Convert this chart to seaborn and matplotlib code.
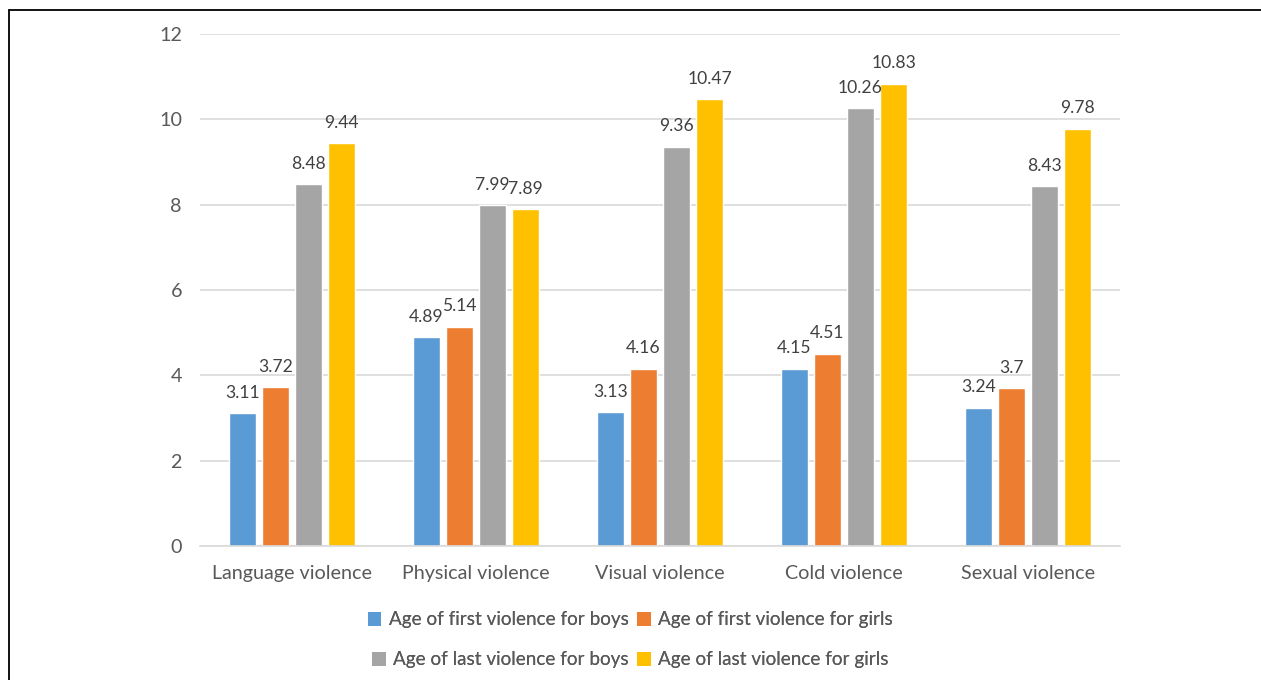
import matplotlib
matplotlib.use("Agg")
import matplotlib.pyplot as plt
from matplotlib.lines import Line2D
from matplotlib.patches import Patch
import seaborn as sns
import pandas as pd

categories = ["Language violence", "Physical violence", "Visual violence",
              "Cold violence", "Sexual violence"]
series = ["Age of first violence for boys", "Age of first violence for girls",
          "Age of last violence for boys", "Age of last violence for girls"]
first_boys = [3.11, 4.89, 3.13, 4.15, 3.24]
first_girls = [3.72, 5.14, 4.16, 4.51, 3.7]
last_boys = [8.48, 7.99, 9.36, 10.26, 8.43]
last_girls = [9.44, 7.89, 10.47, 10.83, 9.78]
label_text = {
    series[0]: ["3.11", "4.89", "3.13", "4.15", "3.24"],
    series[1]: ["3.72", "5.14", "4.16", "4.51", "3.7"],
    series[2]: ["8.48", "7.99", "9.36", "10.26", "8.43"],
    series[3]: ["9.44", "7.89", "10.47", "10.83", "9.78"],
}
colors = ["#5B9BD5", "#ED7D31", "#A5A5A5", "#FFC000"]

rows = []
for name, vals in zip(series, [first_boys, first_girls, last_boys, last_girls]):
    for cat, v in zip(categories, vals):
        rows.append({"category": cat, "series": name, "value": v})
df = pd.DataFrame(rows)

sns.set_theme(style="white")
plt.rcParams["font.family"] = ["Lato", "DejaVu Sans"]

W, H = 1261, 680
FS = 14.2
fig = plt.figure(figsize=(W / 100, H / 100), dpi=100)
ax = fig.add_axes([200 / W, 1 - 546 / H, 920 / W, 512 / H])

sns.barplot(data=df, x="category", y="value", hue="series", order=categories,
            hue_order=series, palette=colors, width=0.72, gap=0.2,
            saturation=1, ax=ax, legend=False)

ax.set_ylim(0, 12)
ax.set_xlim(-0.5, 4.5)
ax.set_yticks(range(0, 13, 2))
ax.yaxis.grid(True, color="#D9D9D9", linewidth=1.2)
ax.set_axisbelow(True)
for side in ["top", "right", "left"]:
    ax.spines[side].set_visible(False)
ax.spines["bottom"].set_color("#D9D9D9")
ax.spines["bottom"].set_linewidth(1.2)
ax.set_xlabel("")
ax.set_ylabel("")
ax.tick_params(axis="both", length=0, labelsize=FS, colors="#595959")
ax.tick_params(axis="y", pad=13)
ax.tick_params(axis="x", pad=14)

for container, name in zip(ax.containers, series):
    ax.bar_label(container, labels=label_text[name], padding=9,
                 fontsize=12.6, color="#404040")

# legend laid out in two rows, each row centred on its own
handles = [Patch(facecolor=c, edgecolor="none") for c in colors]
legend_rows = [(0, 1, 620), (2, 3, 660)]
for i, j, yc in legend_rows:
    leg = fig.legend([handles[i], handles[j]], [series[i], series[j]],
                     loc="center", bbox_to_anchor=(0.5, 1 - yc / H),
                     ncol=2, frameon=False, fontsize=13.6, labelcolor="#595959",
                     handlelength=0.7, handleheight=0.7, handletextpad=0.4,
                     columnspacing=0.45, borderpad=0)
    fig.add_artist(leg)

# chart frame
fig.add_artist(Line2D([9 / W, 9 / W], [0, 1 - 10 / H], color="black", linewidth=1.3,
                      transform=fig.transFigure))
fig.add_artist(Line2D([9 / W, 1], [1 - 10 / H, 1 - 10 / H], color="black", linewidth=1.3,
                      transform=fig.transFigure))

fig.savefig("out.png", dpi=100)
